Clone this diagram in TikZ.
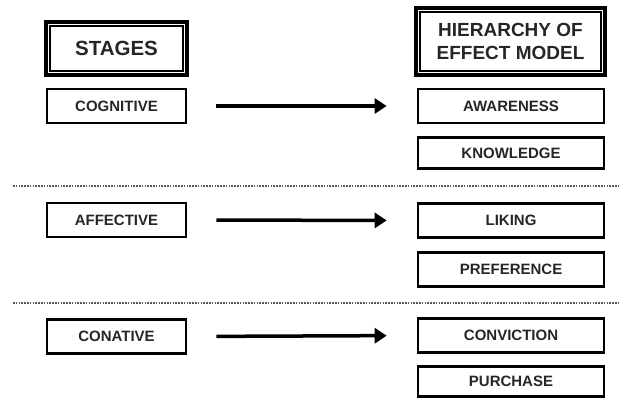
\documentclass[tikz,border=0pt]{standalone}
\usepackage{fontspec}
\setmainfont{Liberation Sans}
\usetikzlibrary{arrows.meta}
\tikzset{
  smallbox/.style={draw=black, line width=2.6pt, minimum height=34pt, inner sep=0pt,
    font=\bfseries\fontsize{15}{17}\selectfont, text=black!85},
  leftbox/.style={smallbox, minimum width=139pt},
  rightbox/.style={smallbox, minimum width=186pt},
  headbox/.style={draw=black, line width=4pt, inner sep=0pt, align=center,
    font=\bfseries\fontsize{19}{23}\selectfont, text=black!85},
  innerframe/.style={draw=black, line width=2pt},
  flow/.style={line width=3.5pt, -{Triangle[length=12pt,width=15pt]}},
  divider/.style={line width=1.8pt, draw=black!65, dash pattern=on 1.6pt off 1.2pt}
}
\begin{document}
\begin{tikzpicture}[x=1pt,y=-1pt]
\useasboundingbox (0,0) rectangle (620,398);
% headers
\node[headbox, minimum width=141pt, minimum height=53pt, font=\bfseries\fontsize{20.5}{23}\selectfont] (stages) at (116.5,48.5) {STAGES};
\draw[innerframe] ([xshift=6pt,yshift=-6pt]stages.north west) rectangle ([xshift=-6pt,yshift=6pt]stages.south east);
\node[headbox, minimum width=189pt, minimum height=67pt] (hier) at (510.5,41.5) {HIERARCHY OF\\EFFECT MODEL};
\draw[innerframe] ([xshift=6pt,yshift=-6pt]hier.north west) rectangle ([xshift=-6pt,yshift=6pt]hier.south east);
% left column
\node[leftbox] (cog) at (116.5,106) {COGNITIVE};
\node[leftbox] (aff) at (116.5,220) {AFFECTIVE};
\node[leftbox] (con) at (116.5,336.5) {CONATIVE};
% right column
\node[rightbox] (awa) at (511,106) {AWARENESS};
\node[rightbox, minimum height=31pt] (kno) at (511,153) {KNOWLEDGE};
\node[rightbox] (lik) at (511,220.5) {LIKING};
\node[rightbox] (pre) at (511,269.5) {PREFERENCE};
\node[rightbox] (cnv) at (511,335.5) {CONVICTION};
\node[rightbox, minimum height=30pt] (pur) at (511,381.5) {PURCHASE};
% arrows
\draw[flow, shorten <=29pt, shorten >=30pt] (cog.east) -- (awa.west);
\draw[flow, shorten <=29pt, shorten >=30pt] (aff.east) -- (lik.west);
\draw[flow, shorten <=29pt, shorten >=30pt] (con.east) -- (cnv.west);
% dividers
\coordinate (d1l) at (13,186);
\coordinate (d1r) at (620,186);
\coordinate (d2l) at (13,303);
\coordinate (d2r) at (620,303);
\draw[divider] (d1l) -- (d1r);
\draw[divider] (d2l) -- (d2r);
\end{tikzpicture}
\end{document}
